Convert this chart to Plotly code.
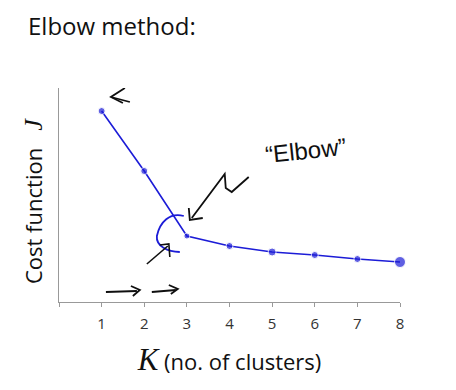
import plotly.graph_objects as go

# ---- data ----
k_values = [1, 2, 3, 4, 5, 6, 7, 8]
cost_j = [191, 131, 66, 56, 50, 47, 43, 40]
marker_sizes = [7, 7, 6, 7, 8, 7, 7, 11]
tick_vals = [0, 1, 2, 3, 4, 5, 6, 7, 8]
tick_text = ["", "1", "2", "3", "4", "5", "6", "7", "8"]

BLUE = "rgb(28,28,215)"
INK = "rgb(15,15,15)"
FONT = "Open Sans, Lato, sans-serif"

# pixel (screen) -> data helpers for the hand-drawn decorations
X0, XU = 59.0, 42.69
def dx(px):
    return (px - X0) / XU
def dy(py):
    return 302.0 - py
def path(pts, cmd):
    s = ""
    for c, (a, b) in zip(cmd, pts):
        s += f"{c}{dx(a):.3f},{dy(b):.3f} "
    return s

fig = go.Figure()

fig.add_trace(go.Scatter(
    x=k_values, y=cost_j, mode="lines+markers",
    line=dict(color=BLUE, width=1.6),
    marker=dict(color=BLUE, size=marker_sizes),
    cliponaxis=False, showlegend=False, hoverinfo="skip"))

shapes = []
def add(pts, cmd, color=INK, width=1.8):
    shapes.append(dict(type="path", xref="x", yref="y", path=path(pts, cmd),
                       line=dict(color=color, width=width)))

# blue arc around the elbow
arc_pts = [(184, 216), (170, 212), (160, 222), (157, 236), (156, 246), (168, 252), (180, 252)]
shapes.append(dict(type="path", xref="x", yref="y",
                   path=path(arc_pts[:1], "M") + "C" + " ".join(f"{dx(a):.3f},{dy(b):.3f}" for a, b in arc_pts[1:4]) +
                   " C" + " ".join(f"{dx(a):.3f},{dy(b):.3f}" for a, b in arc_pts[4:7]),
                   line=dict(color=BLUE, width=1.8)))
# zigzag arrow pointing at elbow
add([(249, 177), (232, 192), (226, 188), (225, 174), (192, 218)], "MLLLL")
add([(189, 208), (190, 220), (203, 218)], "MLL")
# small arrow at lower-left of arc
add([(147, 264), (168, 246)], "ML", width=1.6)
add([(160, 245), (169, 244), (170, 257)], "MLL", width=1.6)
# arrow near K=1 point
add([(130, 102), (111, 97)], "ML")
add([(125, 88), (111, 97), (123, 103)], "MLL")
# right-pointing arrows under curve
add([(106, 292), (137, 291)], "ML")
add([(131, 286), (140, 290), (133, 296)], "MLL")
add([(152, 292), (176, 290)], "ML")
add([(169, 285), (178, 289), (171, 294)], "MLL")
# squiggle at right end
sq = [(412, 250), (422, 240), (433, 242), (428, 252), (421, 257), (436, 260),
      (431, 270), (424, 265), (436, 273), (425, 279), (413, 275)]
add(sq, "M" + "L" * (len(sq) - 1), width=2.2)

annotations = [
    dict(text="Elbow method:", xref="paper", yref="paper", x=-0.094, y=1.3738,
         xanchor="left", yanchor="top", showarrow=False, borderpad=0,
         font=dict(family=FONT, size=24, color="#111")),
    dict(text="\u201cElbow\u201d", xref="x", yref="y", x=dx(306), y=dy(150),
         showarrow=False, textangle=-6,
         font=dict(family="Liberation Sans, sans-serif", size=24, color=INK)),
    dict(text="Cost function &nbsp; <span style='font-family:Liberation Serif;font-style:italic;font-size:26px'>J</span>",
         xref="paper", yref="paper", x=-0.0762, y=0.472, textangle=-90,
         xanchor="center", yanchor="middle", showarrow=False,
         font=dict(family=FONT, size=22, color="#111")),
]

# page body has an 8px margin, so the figure is drawn 8px smaller / shifted
fig.update_layout(
    width=448, height=382,
    margin=dict(l=51, r=56, t=80, b=88, autoexpand=False),
    paper_bgcolor="white", plot_bgcolor="white",
    shapes=shapes, annotations=annotations,
    xaxis=dict(range=[0, 8], tickvals=tick_vals, ticktext=tick_text, automargin=False,
               showgrid=False, zeroline=False, showline=True,
               linecolor="#999", linewidth=1, ticks="outside", ticklen=4,
               tickcolor="#999", ticklabelstandoff=4,
               tickfont=dict(family=FONT, size=15, color="#333"),
               title=dict(text="<span style='font-family:Liberation Serif;font-style:italic;font-size:31px'>K</span> (no. of clusters)",
                          font=dict(family=FONT, size=22, color="#111"), standoff=22)),
    xaxis2=dict(range=[0, 8], tickvals=tick_vals, overlaying="x", anchor="y", side="bottom",
                showticklabels=False, showgrid=False, zeroline=False, showline=False,
                ticks="inside", ticklen=4, tickcolor="#999", automargin=False),
    yaxis=dict(range=[0, 214], showticklabels=False, showgrid=False, zeroline=False,
               automargin=False,
               showline=True, linecolor="#999", linewidth=1, ticks=""),
)

fig.write_html("out.html")
